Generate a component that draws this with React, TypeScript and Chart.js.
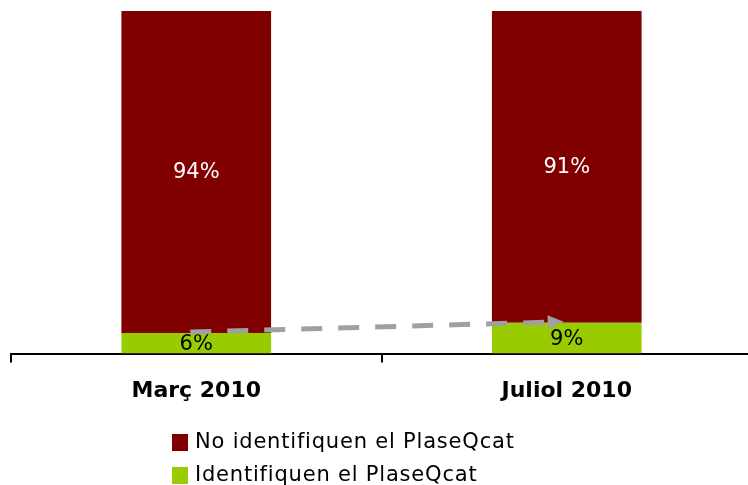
import React, { useEffect, useRef } from "react";
import { Chart, registerables } from "chart.js";

Chart.register(...registerables);

const categories = ["Març 2010", "Juliol 2010"];
const identifiquen = [6, 9];
const noIdentifiquen = [94, 91];
const seriesNames = ["No identifiquen el PlaseQcat", "Identifiquen el PlaseQcat"];
const colors = ["#800000", "#99CC00"];

const labelPlugin = {
  id: "labelsAndExtras",
  afterDatasetsDraw(chart: any) {
    const ctx = chart.ctx;
    ctx.save();
    ctx.font = "21px 'DejaVu Sans'";
    ctx.textAlign = "center";
    ctx.textBaseline = "middle";
    chart.data.datasets.forEach((ds: any, di: number) => {
      const meta = chart.getDatasetMeta(di);
      meta.data.forEach((bar: any, i: number) => {
        const v = ds.data[i];
        const yc = (bar.y + bar.base) / 2;
        ctx.fillStyle = di === 0 ? "#000000" : "#ffffff";
        ctx.fillText(v + "%", bar.x, yc + 1);
      });
    });
    // dashed arrow between green tops
    const xs = chart.scales.x;
    const ys = chart.scales.y;
    const x0 = xs.getPixelForValue(0) - 6;
    const y0 = ys.getPixelForValue(identifiquen[0]) - 1;
    const x1 = xs.getPixelForValue(1) - 3;
    const y1 = ys.getPixelForValue(identifiquen[1]) - 1;
    const ang = Math.atan2(y1 - y0, x1 - x0);
    const headLen = 16;
    const bx = x1 - headLen * Math.cos(ang);
    const by = y1 - headLen * Math.sin(ang);
    ctx.strokeStyle = "#A0A0A0";
    ctx.fillStyle = "#A0A0A0";
    ctx.lineWidth = 5;
    ctx.setLineDash([21, 16]);
    ctx.beginPath();
    ctx.moveTo(x0, y0);
    ctx.lineTo(bx, by);
    ctx.stroke();
    ctx.setLineDash([]);
    ctx.beginPath();
    ctx.moveTo(x1, y1);
    ctx.lineTo(bx + 7 * Math.sin(ang), by - 7 * Math.cos(ang));
    ctx.lineTo(bx - 7 * Math.sin(ang), by + 7 * Math.cos(ang));
    ctx.closePath();
    ctx.fill();

    // legend (two rows, left aligned)
    const legendRows = [
      { text: seriesNames[0], color: colors[0], y: 442 },
      { text: seriesNames[1], color: colors[1], y: 475 },
    ];
    ctx.font = "21px 'DejaVu Sans'";
    (ctx as any).letterSpacing = "0.8px";
    ctx.textAlign = "left";
    ctx.textBaseline = "middle";
    legendRows.forEach((r) => {
      ctx.fillStyle = r.color;
      ctx.fillRect(172, r.y - 8, 16, 17);
      ctx.fillStyle = "#000000";
      ctx.fillText(r.text, 195, r.y + 1);
    });
    ctx.restore();
  },
};

export default function App() {
  const ref = useRef<HTMLCanvasElement>(null);
  useEffect(() => {
    if (!ref.current) return;
    const chart = new Chart(ref.current, {
      type: "bar",
      data: {
        labels: categories,
        datasets: [
          {
            label: seriesNames[1],
            data: identifiquen,
            backgroundColor: colors[1],
            barPercentage: 0.404,
            categoryPercentage: 1,
          },
          {
            label: seriesNames[0],
            data: noIdentifiquen,
            backgroundColor: colors[0],
            barPercentage: 0.404,
            categoryPercentage: 1,
          },
        ],
      },
      options: {
        animation: false,
        responsive: false,
        maintainAspectRatio: false,
        layout: { padding: { top: 11, left: 11, right: 0, bottom: 66 } },
        plugins: { legend: { display: false }, tooltip: { enabled: false } },
        scales: {
          x: {
            stacked: true,
            offset: true,
            grid: {
              offset: true,
              drawOnChartArea: false,
              drawTicks: true,
              tickLength: 9,
              color: "#000000",
              lineWidth: 2,
            },
            border: { display: true, color: "#000000", width: 2 },
            ticks: {
              color: "#000000",
              padding: 15,
              font: { family: "'DejaVu Sans'", size: 22, weight: "bold" },
            },
          },
          y: {
            stacked: true,
            display: false,
            min: 0,
            max: 100,
          },
        },
      },
      plugins: [labelPlugin],
    });
    return () => chart.destroy();
  }, []);
  return (
    <div style={{ position: "fixed", left: 0, top: 0, width: 748, height: 485, background: "#fff", overflow: "hidden" }}>
      <canvas ref={ref} width={752} height={485} style={{ width: 752, height: 485, display: "block" }} />
    </div>
  );
}
